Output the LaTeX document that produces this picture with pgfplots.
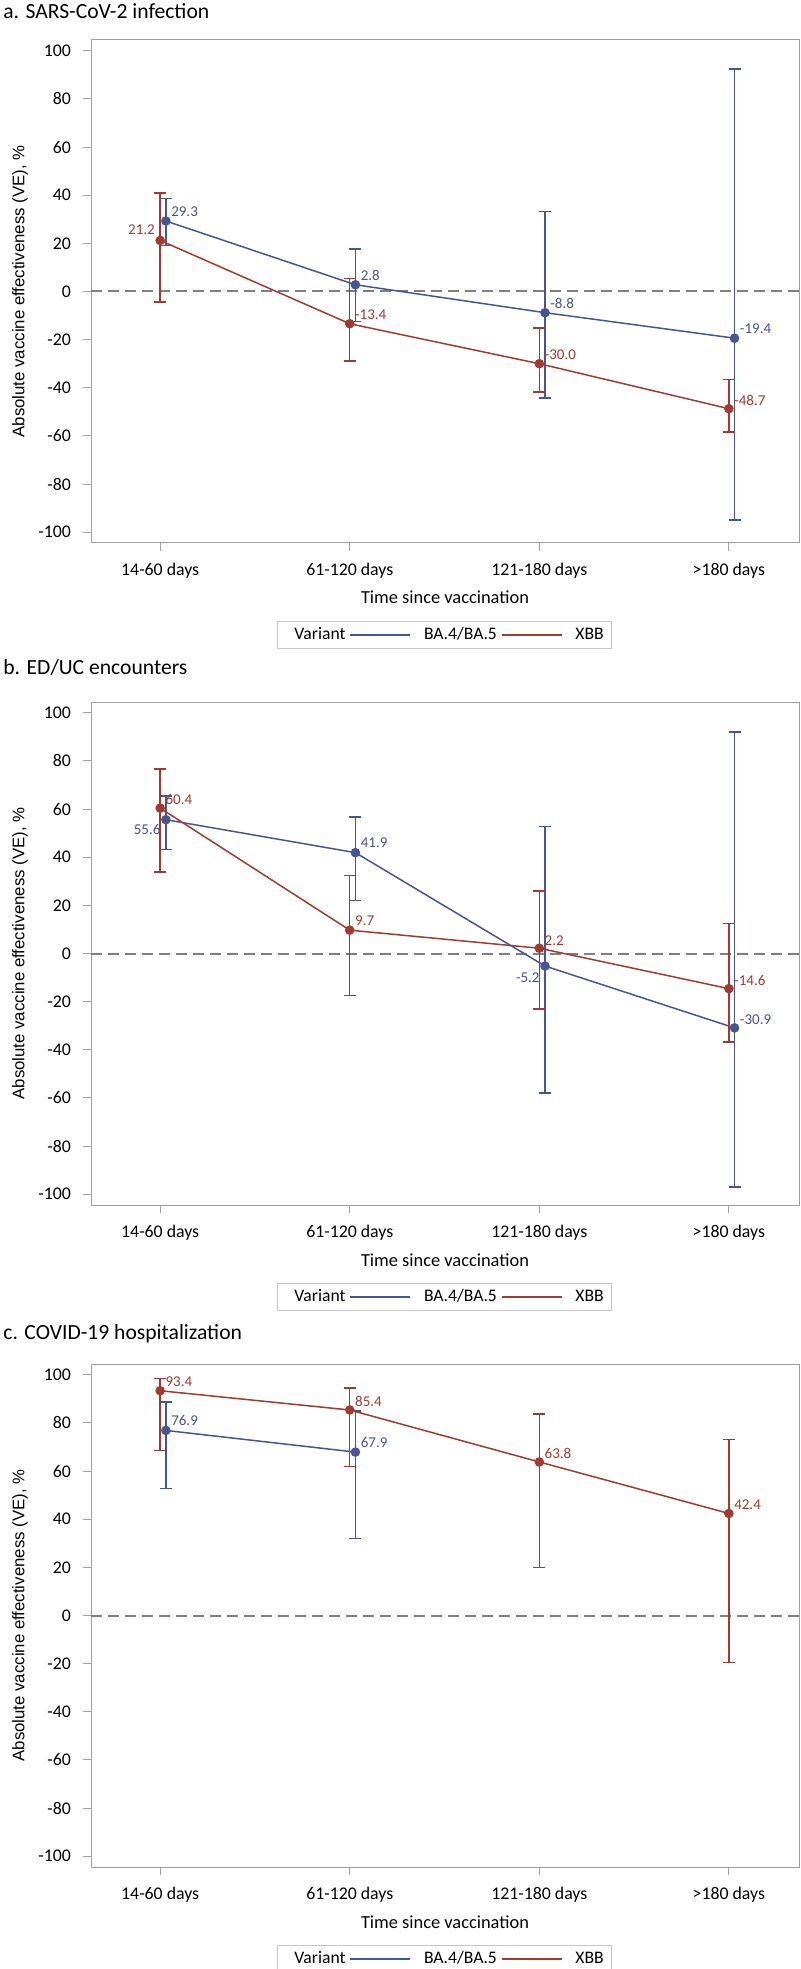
\documentclass[border=0pt]{standalone}
\usepackage{fontspec}
\setmainfont{Carlito}
\newfontfamily\labfont{Liberation Sans}
\usepackage{pgfplots}
\usepackage{pgfplotstable}
\pgfplotsset{compat=1.18}

\definecolor{ba}{HTML}{445694}
\definecolor{xbb}{HTML}{A23A2E}
\definecolor{framegray}{HTML}{A0A0A0}
\definecolor{refgray}{HTML}{808080}
\definecolor{leggray}{HTML}{C8C8C8}

% columns: x, VE, lower CI, upper CI, label anchor angle (180 = label right of point), label shifts (pt)
% a. SARS-CoV-2 infection
\pgfplotstableread{
x    y     lo     hi    ang  dx   dy
0.03 29.3  19.2   38.6  180  2.5  4.75
1.03 2.8   -12.4  17.7  180  2.5  4.5
2.03 -8.8  -44.3  33.2  180  2.5  4.75
3.03 -19.4 -94.9  92.4  180  2.5  4.75
}\infBA
\pgfplotstableread{
x    y     lo     hi    ang  dx   dy
0    21.2  -4.4   40.9  0    -2.5 5.5
1    -13.4 -28.9  5.3   180  2.5  4.5
2    -30.0 -41.8  -15.2 180  2.5  4.5
3    -48.7 -58.4  -36.5 180  2.5  4.25
}\infXBB
% b. ED/UC encounters
\pgfplotstableread{
x    y     lo     hi    ang  dx   dy
0.03 55.6  43.3   65.4  0    -2.5 -5.0
1.03 41.9  22.1   56.7  180  2.5  4.75
2.03 -5.2  -58.0  52.8  0    -2.5 -6.0
3.03 -30.9 -97.0  92.1  180  2.5  4.25
}\edBA
\pgfplotstableread{
x    y     lo     hi    ang  dx   dy
0    60.4  33.9   76.7  180  2.5  4.5
1    9.7   -17.5  32.5  180  2.5  4.5
2    2.2   -23.0  25.9  180  2.5  4.0
3    -14.6 -36.7  12.4  180  2.5  4.0
}\edXBB
% c. COVID-19 hospitalization
\pgfplotstableread{
x    y     lo     hi    ang  dx   dy
0.03 76.9  52.7   88.8  180  2.5  4.75
1.03 67.9  32.1   84.9  180  2.5  4.75
}\hospBA
\pgfplotstableread{
x    y     lo     hi    ang  dx   dy
0    93.4  68.6   98.6  180  2.5  4.5
1    85.4  62.0   94.5  180  2.5  4.5
2    63.8  20.0   83.7  180  2.5  4.5
3    42.4  -19.4  73.2  180  2.5  4.5
}\hospXBB

\pgfplotsset{
  vepanel/.style={
    scale only axis, width=354pt, height=251.5pt,
    xmin=-0.365, xmax=3.37, ymin=-104.5, ymax=104.5,
    xtick={0,1,2,3},
    xticklabels={14-60 days,61-120 days,121-180 days,>180 days},
    ytick={-100,-80,...,100},
    tick align=outside, major tick length=4pt,
    xtick pos=bottom, ytick pos=left,
    axis line style={framegray, line width=0.5pt},
    tick style={framegray, line width=0.5pt},
    /pgf/number format/assume math mode=true,
    tick label style={font=\fontsize{8.9}{10}\selectfont, black},
    xticklabel style={yshift=-2.5pt},
    yticklabel style={xshift=-2.5pt},
    xlabel={Time since vaccination},
    every axis x label/.style={at={(axis description cs:0.5,0)}, anchor=base,
      yshift=-30.5pt, font=\fontsize{9.2}{10}\selectfont},
    ylabel={Absolute vaccine effectiveness (VE), \%},
    every axis y label/.style={at={(axis description cs:-0.1003,0.5)}, rotate=90,
      anchor=center, font=\labfont\fontsize{8.4}{10}\selectfont},
    legend columns=3,
    legend image code/.code={\draw[#1] (0pt,0pt) -- (30pt,0pt);},
    legend style={at={(axis description cs:0.2627,-0.155)}, anchor=north west,
      draw=leggray, line width=0.5pt, font=\fontsize{8.8}{10}\selectfont,
      inner xsep=2pt, inner ysep=1pt,
      /tikz/every odd column/.append style={column sep=4.5pt}},
  },
  veplot/.style={
    color=#1, line width=0.75pt, mark=*, mark size=2pt,
    mark options={solid, fill=#1}, forget plot,
    error bars/y dir=both, error bars/y explicit,
    error bars/error bar style={line width=0.7pt, color=#1},
    error bars/error mark options={rotate=90, mark size=3pt, line width=0.7pt, color=#1},
  },
  velabels/.style={
    draw=none, mark=none, forget plot,
    point meta=explicit symbolic,
    visualization depends on={\thisrow{ang}\as\ang},
    visualization depends on={\thisrow{dx}\as\dx},
    visualization depends on={\thisrow{dy}\as\dy},
    nodes near coords,
    every node near coord/.style={anchor=\ang, xshift=\dx pt, yshift=\dy pt,
      inner sep=0pt, color=#1, font=\fontsize{7.5}{8}\selectfont},
  },
  zeroline/.style={refgray, line width=1pt, dash pattern=on 5.5pt off 3pt, forget plot},
}

\newcommand{\velegend}{%
  \addlegendimage{empty legend}\addlegendentry{Variant}
  \addlegendimage{ba, line width=0.75pt}\addlegendentry{BA.4/BA.5}
  \addlegendimage{xbb, line width=0.75pt}\addlegendentry{XBB}}

\begin{document}
\begin{tikzpicture}
\useasboundingbox (0pt,0pt) rectangle (400pt,-984.5pt);

\node[anchor=base west, font=\fontsize{10.8}{12}\selectfont, inner sep=0pt] at (1.5pt,-9.5pt) {a. SARS-CoV-2 infection};
\begin{axis}[vepanel, at={(45.5pt,-20pt)}, anchor=north west]
\addplot[zeroline] coordinates {(-0.365,0) (3.37,0)};
\addplot[veplot=ba] table[x=x, y=y, y error plus expr=\thisrow{hi}-\thisrow{y}, y error minus expr=\thisrow{y}-\thisrow{lo}] {\infBA};
\addplot[veplot=xbb] table[x=x, y=y, y error plus expr=\thisrow{hi}-\thisrow{y}, y error minus expr=\thisrow{y}-\thisrow{lo}] {\infXBB};
\addplot[velabels=ba] table[x=x, y=y, meta=y] {\infBA};
\addplot[velabels=xbb] table[x=x, y=y, meta=y] {\infXBB};
\velegend
\end{axis}

\node[anchor=base west, font=\fontsize{10.8}{12}\selectfont, inner sep=0pt] at (1.5pt,-337pt) {b. ED/UC encounters};
\begin{axis}[vepanel, at={(45.5pt,-351pt)}, anchor=north west]
\addplot[zeroline] coordinates {(-0.365,0) (3.37,0)};
\addplot[veplot=ba] table[x=x, y=y, y error plus expr=\thisrow{hi}-\thisrow{y}, y error minus expr=\thisrow{y}-\thisrow{lo}] {\edBA};
\addplot[veplot=xbb] table[x=x, y=y, y error plus expr=\thisrow{hi}-\thisrow{y}, y error minus expr=\thisrow{y}-\thisrow{lo}] {\edXBB};
\addplot[velabels=ba] table[x=x, y=y, meta=y] {\edBA};
\addplot[velabels=xbb] table[x=x, y=y, meta=y] {\edXBB};
\velegend
\end{axis}

\node[anchor=base west, font=\fontsize{10.8}{12}\selectfont, inner sep=0pt] at (1.5pt,-669.5pt) {c. COVID-19 hospitalization};
\begin{axis}[vepanel, at={(45.5pt,-682pt)}, anchor=north west]
\addplot[zeroline] coordinates {(-0.365,0) (3.37,0)};
\addplot[veplot=ba] table[x=x, y=y, y error plus expr=\thisrow{hi}-\thisrow{y}, y error minus expr=\thisrow{y}-\thisrow{lo}] {\hospBA};
\addplot[veplot=xbb] table[x=x, y=y, y error plus expr=\thisrow{hi}-\thisrow{y}, y error minus expr=\thisrow{y}-\thisrow{lo}] {\hospXBB};
\addplot[velabels=ba] table[x=x, y=y, meta=y] {\hospBA};
\addplot[velabels=xbb] table[x=x, y=y, meta=y] {\hospXBB};
\velegend
\end{axis}
\end{tikzpicture}
\end{document}
